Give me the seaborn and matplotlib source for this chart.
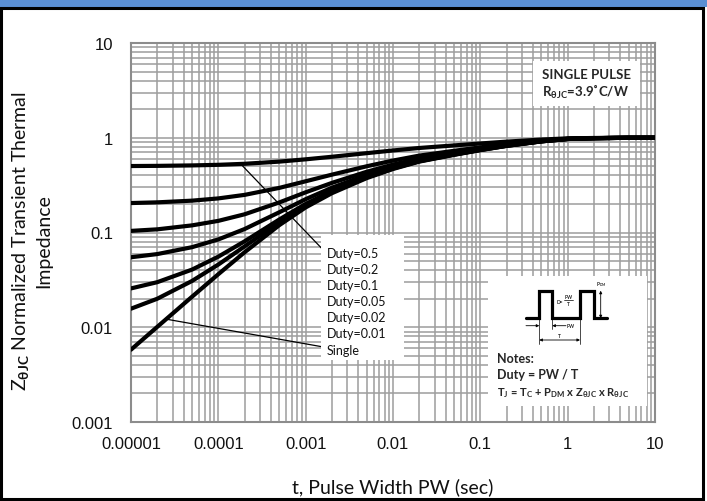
import matplotlib
matplotlib.use("Agg")
import matplotlib.pyplot as plt
import pandas as pd
import seaborn as sns
from matplotlib.transforms import Affine2D
from matplotlib.patches import Rectangle, FancyArrowPatch
from matplotlib.lines import Line2D
from matplotlib.ticker import FixedLocator, LogLocator, NullFormatter

# ---- data ---------------------------------------------------------------
pulse_width = [1e-5, 2e-5, 5e-5, 1e-4, 2e-4, 5e-4, 1e-3, 2e-3, 5e-3, 1e-2,
               2e-2, 5e-2, 0.1, 0.2, 0.5, 1, 2, 5, 10]

z_duty_050 = [0.503, 0.505, 0.5105, 0.518, 0.531, 0.560, 0.592, 0.630, 0.6875, 0.734,
              0.780, 0.830, 0.870, 0.910, 0.9575, 0.985, 0.9945, 0.9995, 1.0]
z_duty_020 = [0.2046, 0.2081, 0.2168, 0.229, 0.2495, 0.2958, 0.3472, 0.408, 0.500, 0.5744,
              0.648, 0.728, 0.792, 0.856, 0.932, 0.976, 0.9912, 0.9992, 1.0]
z_duty_010 = [0.104, 0.108, 0.1189, 0.1327, 0.1557, 0.2077, 0.2656, 0.334, 0.4375, 0.5212,
              0.604, 0.694, 0.766, 0.838, 0.9235, 0.973, 0.9901, 0.9991, 1.0]
z_duty_005 = [0.0548, 0.0592, 0.0700, 0.0845, 0.1088, 0.1637, 0.2248, 0.297, 0.4063, 0.4946,
              0.582, 0.677, 0.753, 0.829, 0.9193, 0.9715, 0.9896, 0.9991, 1.0]
z_duty_002 = [0.0257, 0.0299, 0.0406, 0.0556, 0.0807, 0.1373, 0.2003, 0.2748, 0.3875, 0.4786,
              0.5688, 0.6668, 0.7452, 0.8236, 0.9167, 0.9706, 0.9892, 0.999, 1.0]
z_duty_001 = [0.0157, 0.0200, 0.0308, 0.0459, 0.0713, 0.1285, 0.1922, 0.2674, 0.3813, 0.4733,
              0.5644, 0.6634, 0.7426, 0.8218, 0.9159, 0.9703, 0.9891, 0.999, 1.0]
z_single = [0.0058, 0.0101, 0.0210, 0.0363, 0.0619, 0.1197, 0.184, 0.260, 0.375, 0.468,
            0.560, 0.660, 0.740, 0.820, 0.915, 0.970, 0.989, 0.999, 1.0]

series_labels = ["Duty=0.5", "Duty=0.2", "Duty=0.1", "Duty=0.05",
                 "Duty=0.02", "Duty=0.01", "Single"]
series_values = [z_duty_050, z_duty_020, z_duty_010, z_duty_005,
                 z_duty_002, z_duty_001, z_single]

x_tick_values = [1e-5, 1e-4, 1e-3, 1e-2, 1e-1, 1, 10]
x_tick_labels = ["0.00001", "0.0001", "0.001", "0.01", "0.1", "1", "10"]
y_tick_values = [1e-3, 1e-2, 1e-1, 1, 10]
y_tick_labels = ["0.001", "0.01", "0.1", "1", "10"]

# ---- style --------------------------------------------------------------
sns.set_style("white")
plt.rcParams["font.family"] = ["Lato", "DejaVu Sans"]
plt.rcParams["mathtext.fontset"] = "custom"
plt.rcParams["mathtext.rm"] = "Lato:bold"
plt.rcParams["mathtext.it"] = "Lato:bold"
plt.rcParams["mathtext.bf"] = "Lato:bold"

W, H = 707, 502
fig = plt.figure(figsize=(W / 100, H / 100), dpi=100)
ax = fig.add_axes([131 / W, 1 - 423 / H, 524 / W, 379 / H])

# pixel coordinates measured from the top-left corner of the figure
PX = Affine2D().scale(1 / W, -1 / H).translate(0, 1) + fig.transFigure

frames = []
for name, vals in zip(series_labels, series_values):
    frames.append(pd.DataFrame({"t": pulse_width, "Z": vals, "series": name}))
df = pd.concat(frames, ignore_index=True)

sns.lineplot(data=df, x="t", y="Z", hue="series", hue_order=series_labels,
             palette=["black"] * len(series_labels), estimator=None,
             sort=False, linewidth=3.0, legend=False, ax=ax, zorder=3)
for ln in ax.get_lines():
    ln.set_solid_joinstyle("round")

ax.set_xscale("log")
ax.set_yscale("log")
ax.set_xlim(1e-5, 10)
ax.set_ylim(1e-3, 10)

ax.xaxis.set_major_locator(FixedLocator(x_tick_values))
ax.set_xticklabels(x_tick_labels)
ax.yaxis.set_major_locator(FixedLocator(y_tick_values))
ax.set_yticklabels(y_tick_labels)
ax.xaxis.set_minor_locator(LogLocator(base=10, subs=range(2, 10), numticks=20))
ax.yaxis.set_minor_locator(LogLocator(base=10, subs=range(2, 10), numticks=20))
ax.xaxis.set_minor_formatter(NullFormatter())
ax.yaxis.set_minor_formatter(NullFormatter())
ax.tick_params(which="both", length=0)
ax.tick_params(axis="x", pad=10)
ax.tick_params(axis="y", pad=13)
for lab in ax.get_xticklabels() + ax.get_yticklabels():
    lab.set_fontfamily("Liberation Sans")
    lab.set_fontsize(12)
    lab.set_color("#111111")

ax.set_axisbelow(True)
ax.grid(which="both", color="#9d9d9d", linewidth=1.1)
for sp in ax.spines.values():
    sp.set_color("#8c8c8c")
    sp.set_linewidth(1.5)
ax.set_xlabel("")
ax.set_ylabel("")

# leader lines from the curves to their labels
ax.plot([1.8e-4, 1.55e-3], [0.53, 0.067], color="black", lw=0.9, zorder=4)
ax.plot([2.5e-5, 1.58e-3], [0.0122, 0.0062], color="black", lw=0.9, zorder=4)

# ---- axis titles ----------------------------------------------------------
fig.text(31 / W, 1 - 241 / H,
         "Z$_{\\mathrm{θJC}}$ Normalized Transient Thermal\nImpedance",
         rotation=90, ha="center", va="center", fontsize=14,
         multialignment="center", linespacing=1.35, color="#111111")
fig.text(393 / W, 1 - 487 / H, "t, Pulse Width PW (sec)",
         ha="center", va="center", fontsize=14, color="#111111")

# ---- white label panels -------------------------------------------------
def panel(x0, y0, x1, y1):
    fig.add_artist(Rectangle((x0, y1), x1 - x0, y0 - y1, transform=PX,
                             facecolor="white", edgecolor="none", zorder=5))

panel(533, 62, 640, 107)
panel(321, 236, 404, 361)
panel(488, 277, 647, 407)

fig.text(542, 75, "SINGLE PULSE", transform=PX, fontsize=9.5,
         fontweight="bold", ha="left", va="center", zorder=6)
fig.text(542, 92, "R$_{\\mathrm{θJC}}$=3.9˚C/W", transform=PX, fontsize=9.5,
         fontweight="bold", ha="left", va="center", zorder=6)

duty_label_y = [253.5, 270, 286, 302, 318, 334, 351]
for name, yy in zip(series_labels, duty_label_y):
    fig.text(327, yy, name, transform=PX, fontsize=9, ha="left",
             va="center", color="#111111", zorder=6)

# ---- notes panel with pulse-train sketch ----------------------------------
wave_x = [526, 539.3, 539.3, 552.3, 552.3, 580, 580, 594, 594, 606.7]
wave_y = [319.3, 319.3, 291.7, 291.7, 319.3, 319.3, 291.7, 291.7, 319.3, 319.3]
fig.add_artist(Line2D(wave_x, wave_y, transform=PX, color="black", lw=2.3,
                      solid_joinstyle="miter", zorder=6))
for xx, y_end in [(539.3, 345), (552.3, 330), (580, 345)]:
    fig.add_artist(Line2D([xx, xx], [319.3, y_end], transform=PX,
                          color="black", lw=0.5, zorder=6))

def arrow(p0, p1, style):
    fig.add_artist(FancyArrowPatch(p0, p1, transform=PX, arrowstyle=style,
                                   mutation_scale=4, lw=0.6, color="black",
                                   shrinkA=0, shrinkB=0, zorder=6))

arrow((526, 326.7), (539.3, 326.7), "-|>")
arrow((566, 326.7), (552.3, 326.7), "-|>")
arrow((539.3, 341), (580, 341), "<|-|>")
arrow((600.7, 291.7), (600.7, 319.3), "<|-|>")

fig.text(567, 327, "PW", transform=PX, fontsize=3.5, fontweight="bold",
         ha="left", va="center", zorder=6)
fig.text(559.5, 336.5, "T", transform=PX, fontsize=3.5, fontweight="bold",
         ha="center", va="center", zorder=6)
fig.text(560, 302.5, "D=", transform=PX, fontsize=3.5, fontweight="bold",
         ha="center", va="center", zorder=6)
fig.text(568.5, 298, "PW", transform=PX, fontsize=3.5, fontweight="bold",
         ha="center", va="center", zorder=6)
fig.add_artist(Line2D([564, 573], [301, 301], transform=PX, color="black",
                      lw=0.5, zorder=6))
fig.text(568.5, 305, "T", transform=PX, fontsize=3.5, fontweight="bold",
         ha="center", va="center", zorder=6)
fig.text(601, 285, "P$_{\\mathrm{DM}}$", transform=PX, fontsize=3.5,
         fontweight="bold", ha="center", va="center", zorder=6)

fig.text(496.7, 359.5, "Notes:", transform=PX, fontsize=9, fontweight="bold",
         ha="left", va="center", zorder=6)
fig.text(496.7, 375.5, "Duty = PW / T", transform=PX, fontsize=9,
         fontweight="bold", ha="left", va="center", zorder=6)
fig.text(496.7, 393.5,
         "T$_{\\mathrm{J}}$ = T$_{\\mathrm{C}}$ + P$_{\\mathrm{DM}}$ x "
         "Z$_{\\mathrm{θJC}}$ x R$_{\\mathrm{θJC}}$",
         transform=PX, fontsize=8, fontweight="bold", ha="left",
         va="center", zorder=6)

# ---- header band and frame ----------------------------------------------
fig.add_artist(Rectangle((0, 7.5), W, -7.5, transform=PX,
                         facecolor="#5a8fd4", edgecolor="none", zorder=7))
fig.add_artist(Rectangle((1.4, 500.3), 701.4, -491.5, transform=PX,
                         facecolor="none", edgecolor="black", lw=2.2, zorder=7))

fig.savefig("out.png", dpi=100)
